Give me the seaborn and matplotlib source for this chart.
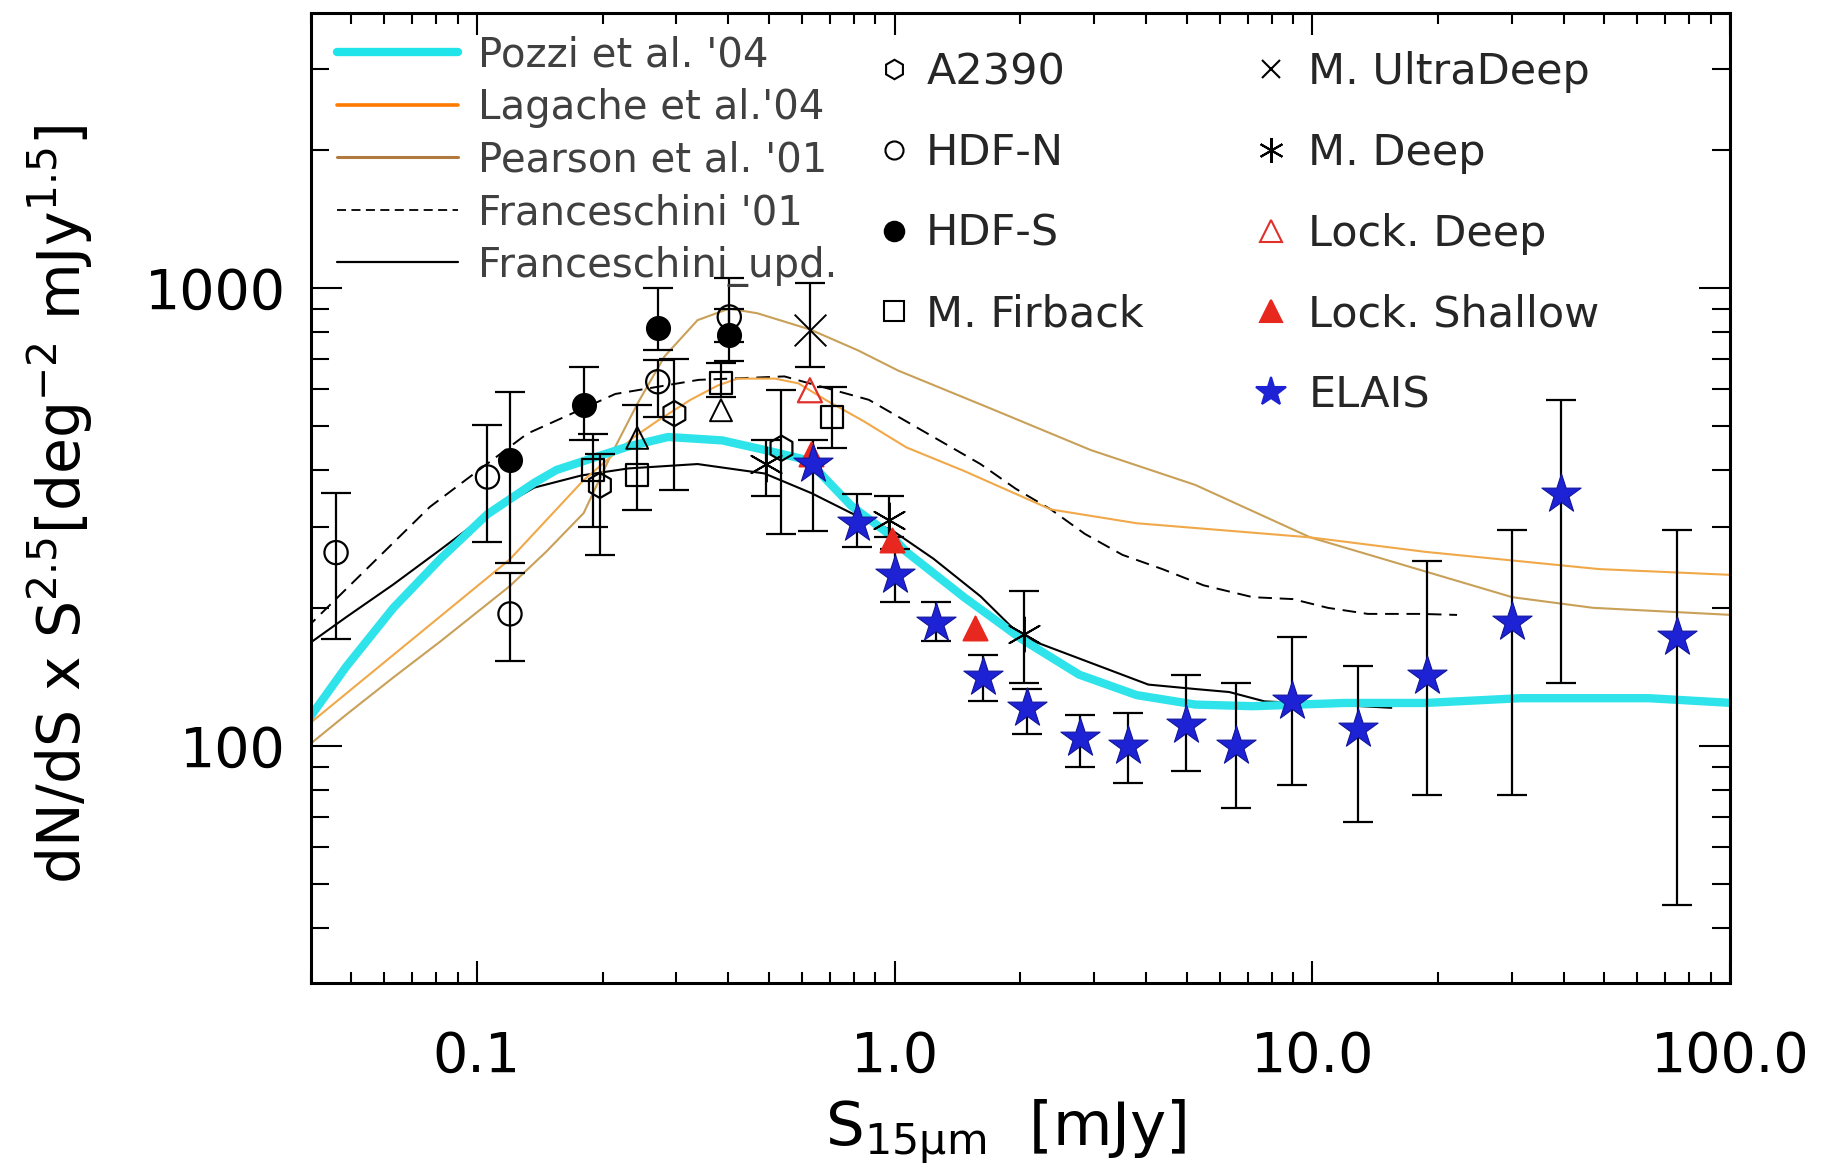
import numpy as np
import seaborn as sns
import matplotlib.pyplot as plt
from matplotlib.lines import Line2D
from matplotlib.ticker import LogLocator, FuncFormatter, NullFormatter

sns.set_style("ticks", {"xtick.direction": "in", "ytick.direction": "in"})
plt.rcParams["font.family"] = ["DejaVu Sans"]
plt.rcParams["mathtext.fontset"] = "dejavusans"

# ---- model curves: S_15um [mJy] vs dN/dS * S^2.5 ----
pozzi_s = [0.0389, 0.0487, 0.0631, 0.0818, 0.1059, 0.1372, 0.1551, 0.2303, 0.2870, 0.3865,
           0.5007, 0.6200, 0.7875, 0.9878, 1.067, 1.466, 2.013, 2.764, 3.796, 5.245,
           7.203, 11.94, 18.66, 31.51, 41.34, 64.0, 101.0]
pozzi_n = [112, 149, 200, 256, 320, 375, 400, 450, 472, 464,
           440, 420, 334, 286, 265, 211, 171, 143, 129, 123,
           122, 124, 124, 127, 127, 127, 124]

lagache_s = [0.0389, 0.1198, 0.1801, 0.2378, 0.2707, 0.3246, 0.3766, 0.4204, 0.5171, 0.5886,
             0.6830, 0.8402, 1.067, 1.466, 2.366, 3.796, 9.890, 18.66, 48.60, 101.0]
lagache_n = [110, 255, 380, 472, 512, 569, 611, 633, 633, 618,
             569, 512, 448, 398, 328, 306, 285, 265, 243, 236]

pearson_s = [0.0389, 0.0487, 0.0631, 0.0818, 0.1198, 0.1464, 0.1801, 0.2089, 0.2425, 0.2814,
             0.3374, 0.4018, 0.4692, 0.6281, 0.8187, 1.020, 1.712, 2.949, 5.245, 9.890,
             30.11, 47.06, 101.0]
pearson_n = [99, 117, 141, 169, 223, 265, 322, 429, 559, 708,
             849, 900, 879, 810, 729, 659, 543, 442, 371, 285,
             211, 200, 193]

fr01_s = [0.0389, 0.0771, 0.1320, 0.2145, 0.3396, 0.5446, 0.8676, 1.605, 1.949, 2.366,
          2.855, 3.512, 4.376, 5.489, 7.203, 8.977, 10.90, 13.58, 18.17, 22.21]
fr01_n = [180, 332, 480, 586, 629, 640, 569, 412, 364, 328,
          290, 261, 243, 224, 211, 209, 200, 194, 194, 193]

frupd_s = [0.0389, 0.0487, 0.0631, 0.0818, 0.1059, 0.1372, 0.1778, 0.2303, 0.3374, 0.4878,
           0.6321, 0.7875, 0.9878, 1.239, 1.605, 2.013, 4.050, 5.245, 6.328, 7.685,
           11.18, 15.46]
frupd_n = [165, 191, 225, 268, 320, 366, 389, 403, 412, 393,
           356, 322, 295, 256, 212, 173, 136, 133, 131, 125,
           123, 121]

# ---- source counts: S, counts, bottom and top of error bar ----
a2390_s = [0.197, 0.297, 0.536]
a2390_n = [370, 531, 446]
a2390_lo = [261, 361, 290]
a2390_hi = [434, 698, 597]

hdfn_s = [0.046, 0.106, 0.120, 0.271, 0.402]
hdfn_n = [264, 386, 194, 623, 863]
hdfn_lo = [171, 279, 153, 522, 760]
hdfn_hi = [356, 501, 238, 695, 1049]

hdfs_s = [0.120, 0.180, 0.271, 0.402]
hdfs_n = [420, 554, 815, 788]
hdfs_lo = [250, 464, 730, 690]
hdfs_hi = [592, 670, 996, 900]

firback_s = [0.190, 0.242, 0.384, 0.707]
firback_n = [400, 390, 618, 523]
firback_lo = [300, 327, 577, 446]
firback_hi = [480, 554, 684, 607]

udeep_s = [0.627]
udeep_n = [808]
udeep_lo = [671]
udeep_hi = [1021]

mdeep_s = [0.493, 0.967, 2.04]
mdeep_n = [413, 311, 175]
mdeep_lo = [350, 285, 137]
mdeep_hi = [465, 350, 218]

lockdeep_s = [0.627]
lockdeep_n = [597]

lockshal_s = [0.632, 0.988, 1.554]
lockshal_n = [434, 281, 181]

tri_s = [0.242, 0.384]      # open black triangles, not in the legend
tri_n = [470, 540]

elais_s = [0.636, 0.814, 1.00, 1.255, 1.626, 2.08, 2.78, 3.63, 4.98, 6.58,
           8.92, 12.9, 18.8, 30.1, 39.5, 74.5]
elais_n = [412, 307, 236, 185, 141, 121, 104, 100, 111, 100,
           125, 109, 142, 186, 354, 173]
elais_lo = [295, 271, 206, 169, 125, 106, 90, 83, 88, 73,
            82, 68, 78, 78, 137, 45]
elais_hi = [465, 355, 269, 206, 158, 133, 117, 118, 143, 137,
            173, 149, 253, 296, 569, 296]

fig = plt.figure(figsize=(18.32, 11.65), dpi=100)
ax = fig.add_axes([0.1696, 0.1565, 0.7747, 0.8321])
ax.set_xscale("log")
ax.set_yscale("log")

# curves
sns.lineplot(x=fr01_s, y=fr01_n, ax=ax, color="black", lw=1.4, linestyle=(0, (7, 4)),
             sort=False, estimator=None, zorder=2)
sns.lineplot(x=frupd_s, y=frupd_n, ax=ax, color="black", lw=1.5, sort=False, estimator=None, zorder=2)
sns.lineplot(x=pearson_s, y=pearson_n, ax=ax, color="#c8a058", lw=1.5, sort=False, estimator=None, zorder=2)
sns.lineplot(x=lagache_s, y=lagache_n, ax=ax, color="#f0a848", lw=1.5, sort=False, estimator=None, zorder=2)
sns.lineplot(x=pozzi_s, y=pozzi_n, ax=ax, color="#2ee3ea", lw=6, sort=False, estimator=None, zorder=2.5)

# error bars
ebkw = dict(fmt="none", ecolor="black", elinewidth=1.6, capsize=11, capthick=1.6, zorder=3)
for s, n, lo, hi in [(a2390_s, a2390_n, a2390_lo, a2390_hi),
                     (hdfn_s, hdfn_n, hdfn_lo, hdfn_hi),
                     (hdfs_s, hdfs_n, hdfs_lo, hdfs_hi),
                     (firback_s, firback_n, firback_lo, firback_hi),
                     (udeep_s, udeep_n, udeep_lo, udeep_hi),
                     (mdeep_s, mdeep_n, mdeep_lo, mdeep_hi),
                     (elais_s, elais_n, elais_lo, elais_hi)]:
    n = np.array(n, dtype=float)
    ax.errorbar(s, n, yerr=[n - np.array(lo), np.array(hi) - n], **ebkw)

# markers
sns.scatterplot(x=a2390_s, y=a2390_n, ax=ax, marker="h", s=330, facecolor="none",
                edgecolor="black", linewidth=1.6, zorder=4)
sns.scatterplot(x=hdfn_s, y=hdfn_n, ax=ax, marker="o", s=280, facecolor="none",
                edgecolor="black", linewidth=1.6, zorder=4)
sns.scatterplot(x=hdfs_s, y=hdfs_n, ax=ax, marker="o", s=280, color="black",
                edgecolor="black", zorder=4)
sns.scatterplot(x=firback_s, y=firback_n, ax=ax, marker="s", s=250, facecolor="none",
                edgecolor="black", linewidth=1.6, zorder=4)
sns.scatterplot(x=tri_s, y=tri_n, ax=ax, marker="^", s=250, facecolor="none",
                edgecolor="black", linewidth=1.4, zorder=4)
sns.scatterplot(x=udeep_s, y=udeep_n, ax=ax, marker="x", s=520, color="black",
                linewidth=1.4, zorder=4)
sns.scatterplot(x=mdeep_s, y=mdeep_n, ax=ax, marker=(6, 2, 0), s=620, color="black",
                linewidth=1.4, zorder=4)
sns.scatterplot(x=lockdeep_s, y=lockdeep_n, ax=ax, marker="^", s=300, facecolor="none",
                edgecolor="#e0302a", linewidth=1.6, zorder=5)
sns.scatterplot(x=lockshal_s, y=lockshal_n, ax=ax, marker="^", s=300, color="#e8281e",
                edgecolor="#e8281e", zorder=5)
sns.scatterplot(x=elais_s, y=elais_n, ax=ax, marker="*", s=880, color="#1d22d4",
                edgecolor="#12159a", linewidth=0.8, zorder=5)

ax.set_xlim(0.04, 100)
ax.set_ylim(30.4, 3970)

ax.xaxis.set_major_locator(LogLocator(base=10))
ax.xaxis.set_minor_locator(LogLocator(base=10, subs=np.arange(2, 10), numticks=100))
ax.xaxis.set_major_formatter(FuncFormatter(lambda v, p: f"{v:.1f}"))
ax.xaxis.set_minor_formatter(NullFormatter())
ax.yaxis.set_major_locator(LogLocator(base=10))
ax.yaxis.set_minor_locator(LogLocator(base=10, subs=np.arange(2, 10), numticks=100))
ax.yaxis.set_major_formatter(FuncFormatter(lambda v, p: f"{v:.0f}"))
ax.yaxis.set_minor_formatter(NullFormatter())

ax.tick_params(which="both", direction="in", top=True, right=True, width=1.5,
               color="black", labelcolor="black", labelsize=40)
ax.tick_params(axis="x", which="major", length=16, pad=34)
ax.tick_params(axis="x", which="minor", length=8)
ax.tick_params(axis="y", which="major", length=22, pad=18)
ax.tick_params(axis="y", which="minor", length=13)
for sp in ax.spines.values():
    sp.set_linewidth(2.2)
    sp.set_color("black")

ax.set_xlabel(r"S$_{\mathrm{15\mu m}}$  [mJy]", fontsize=44, color="black", va="top")
ax.xaxis.set_label_coords(0.49, -0.118)
ax.set_ylabel(r"dN/dS x S$^{2.5}$[deg$^{-2}$ mJy$^{1.5}$]", fontsize=42, color="black")
ax.yaxis.set_label_coords(-0.152, 0.494)

# legends
line_handles = [Line2D([], [], color="#1fe4ea", lw=6),
                Line2D([], [], color="#ff7a00", lw=2.6),
                Line2D([], [], color="#b07a3e", lw=2.2),
                Line2D([], [], color="black", lw=1.3, ls=(0, (5, 3))),
                Line2D([], [], color="black", lw=1.6)]
line_labels = ["Pozzi et al. '04", "Lagache et al.'04", "Pearson et al. '01",
               "Franceschini '01", "Franceschini_upd."]
leg1 = ax.legend(line_handles, line_labels, loc="upper left", bbox_to_anchor=(0.0185, 0.977),
                 frameon=False, borderpad=0, borderaxespad=0, handlelength=3.0,
                 handletextpad=0.5, labelspacing=0.31,
                 prop={"family": ["DejaVu Sans"], "size": 29})
for t in leg1.get_texts():
    t.set_color("#404040")
ax.add_artist(leg1)

mk = dict(ls="none", mew=1.5)
sym1 = [Line2D([], [], marker="h", ms=14, mfc="none", mec="black", **mk),
        Line2D([], [], marker="o", ms=13, mfc="none", mec="black", **mk),
        Line2D([], [], marker="o", ms=14, mfc="black", mec="black", **mk),
        Line2D([], [], marker="s", ms=14, mfc="none", mec="black", **mk)]
leg2 = ax.legend(sym1, ["A2390", "HDF-N", "HDF-S", "M. Firback"], loc="upper left",
                 bbox_to_anchor=(0.4018, 0.961), frameon=False, borderpad=0, borderaxespad=0,
                 handlelength=0.6, handletextpad=0.45, labelspacing=0.9,
                 prop={"family": ["DejaVu Sans"], "size": 31})
ax.add_artist(leg2)

sym2 = [Line2D([], [], marker="x", ms=13, color="black", **mk),
        Line2D([], [], marker=(6, 2, 0), ms=18, color="black", **mk),
        Line2D([], [], marker="^", ms=16, mfc="none", mec="#e0302a", **mk),
        Line2D([], [], marker="^", ms=16, mfc="#e8281e", mec="#e8281e", **mk),
        Line2D([], [], marker="*", ms=22, mfc="#1d22d4", mec="#1d22d4", **mk)]
ax.legend(sym2, ["M. UltraDeep", "M. Deep", "Lock. Deep", "Lock. Shallow", "ELAIS"],
          loc="upper left", bbox_to_anchor=(0.6674, 0.961), frameon=False, borderpad=0,
          borderaxespad=0, handlelength=0.6, handletextpad=0.57, labelspacing=0.9,
          prop={"family": ["DejaVu Sans"], "size": 31})

fig.savefig("out.png", dpi=100)
